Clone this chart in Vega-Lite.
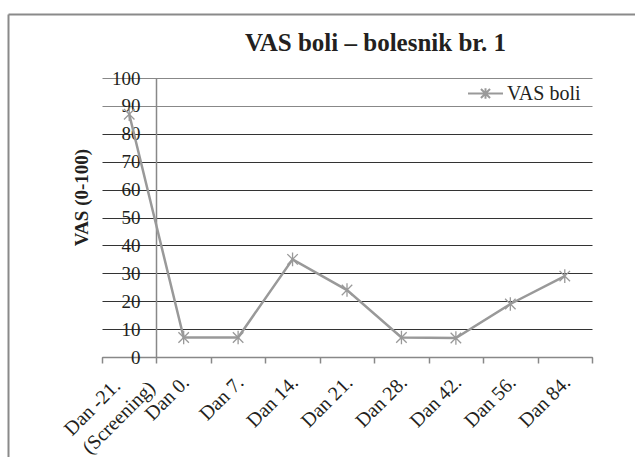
{
  "$schema": "https://vega.github.io/schema/vega-lite/v6.json",
  "width": 627,
  "height": 443,
  "autosize": {"type": "none"},
  "padding": {"left": 8, "top": 14, "right": 0, "bottom": 0},
  "background": "white",
  "title": {
    "text": "VAS boli – bolesnik br. 1",
    "font": "'Liberation Serif', 'DejaVu Serif', serif",
    "fontSize": 25,
    "fontWeight": "bold",
    "color": "#231f20",
    "anchor": "middle",
    "frame": "group",
    "dx": 54,
    "dy": 62,
    "offset": 0,
    "baseline": "alphabetic"
  },
  "layer": [
    {
      "data": {"values": [{"f": 0}]},
      "mark": {"type": "point", "opacity": 0},
      "encoding": {
        "x": {"field": "f", "type": "quantitative", "scale": {"domain": [0, 1]},
              "axis": {"orient": "top", "title": null, "labels": false, "ticks": false, "grid": false, "domain": true, "domainColor": "#8a8a8a", "domainWidth": 2}},
        "y": {"field": "f", "type": "quantitative", "scale": {"domain": [0, 1]},
              "axis": {"orient": "left", "title": null, "labels": false, "ticks": false, "grid": false, "domain": true, "domainColor": "#8a8a8a", "domainWidth": 2, "offset": 0}}
      }
    },
    {
      "data": {
        "values": [
          {"dan": "Dan -21. (Screening)", "vas": 87},
          {"dan": "Dan 0.", "vas": 7},
          {"dan": "Dan 7.", "vas": 7},
          {"dan": "Dan 14.", "vas": 35},
          {"dan": "Dan 21.", "vas": 24},
          {"dan": "Dan 28.", "vas": 7},
          {"dan": "Dan 42.", "vas": 6.8},
          {"dan": "Dan 56.", "vas": 19},
          {"dan": "Dan 84.", "vas": 29}
        ]
      },
      "encoding": {
        "x": {
          "field": "dan",
          "type": "nominal",
          "sort": null,
          "scale": {"type": "band", "paddingInner": 0, "paddingOuter": 0, "range": [94, 584]},
          "axis": {
            "orient": "bottom",
            "offset": -100,
            "title": null,
            "labelAngle": -45,
            "labelAlign": {"condition": {"test": "datum.value == 'Dan -21. (Screening)'", "value": "left"}, "value": "right"},
            "labelBaseline": "middle",
            "labelFont": "'Liberation Serif', 'DejaVu Serif', serif",
            "labelFontSize": 20,
            "labelColor": "#231f20",
            "labelPadding": {"condition": {"test": "datum.value == 'Dan -21. (Screening)'", "value": 69}, "value": 16},
            "labelOffset": {"condition": {"test": "datum.value == 'Dan -21. (Screening)'", "value": -62}, "value": 2},
            "labelLineHeight": 26,
            "labelOverlap": false,
            "labelBound": false,
            "labelExpr": "datum.value == 'Dan -21. (Screening)' ? ['Dan -21.', '(Screening)'] : datum.label",
            "tickBand": "extent",
            "tickSize": 6,
            "tickColor": "#888888",
            "tickWidth": 1.5,
            "domainColor": "#888888",
            "domainWidth": 1.5,
            "grid": false
          }
        },
        "y": {
          "field": "vas",
          "type": "quantitative",
          "scale": {"domain": [0, 100], "nice": false, "range": [343, 64]},
          "axis": {
            "orient": "left",
            "title": "VAS (0-100)",
            "titleFont": "'Liberation Serif', 'DejaVu Serif', serif",
            "titleFontSize": 19,
            "titleFontWeight": "bold",
            "titleColor": "#231f20",
            "titlePadding": 20,
            "titleY": 183,
            "offset": -148,
            "values": [0, 10, 20, 30, 40, 50, 60, 70, 80, 90, 100],
            "ticks": false,
            "labelPadding": 16,
            "labelFont": "'Liberation Serif', 'DejaVu Serif', serif",
            "labelFontSize": 19,
            "labelColor": "#231f20",
            "domainColor": "#888888",
            "domainWidth": 1.5,
            "grid": true,
            "gridColor": {"condition": {"test": "datum.value >= 90", "value": "#888888"}, "value": "#333333"},
            "gridWidth": 1.2
          }
        },
        "color": {
          "datum": "VAS boli",
          "type": "nominal",
          "scale": {"range": ["#999999"]},
          "legend": {
            "orient": "none",
            "legendX": 459,
            "legendY": 61,
            "padding": 0,
            "title": null,
            "symbolType": "M-1,0H1M-0.26,-0.26L0.26,0.26M-0.26,0.26L0.26,-0.26M0,-0.3V0.3",
            "symbolSize": 1225,
            "symbolStrokeWidth": 2,
            "symbolStrokeColor": "#999999",
            "symbolFillColor": "transparent",
            "labelFont": "'Liberation Serif', 'DejaVu Serif', serif",
            "labelFontSize": 20,
            "labelColor": "#231f20",
            "labelOffset": 3
          }
        }
      },
      "layer": [
        {"mark": {"type": "line", "strokeWidth": 2.5}},
        {"mark": {"type": "point", "shape": "M-1,-1L1,1M-1,1L1,-1M0,-1.3V1.3", "size": 110, "filled": false, "strokeWidth": 1.3, "opacity": 1}}
      ]
    }
  ],
  "resolve": {"scale": {"x": "independent", "y": "independent"}, "axis": {"x": "independent", "y": "independent"}},
  "config": {"view": {"stroke": null}, "font": "'Liberation Serif', 'DejaVu Serif', serif"}
}
